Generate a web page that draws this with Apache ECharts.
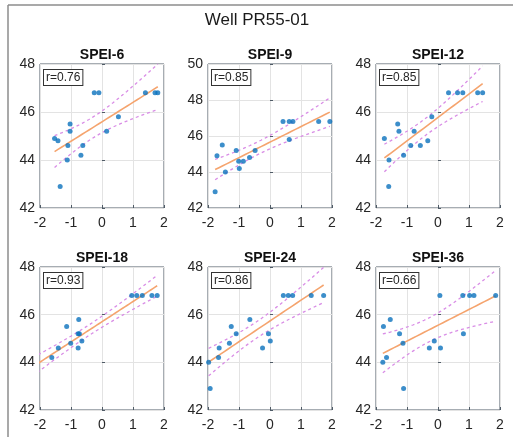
<!DOCTYPE html>
<html><head><meta charset="utf-8">
<script src="https://cdn.jsdelivr.net/npm/echarts@6/dist/echarts.min.js"></script>
<style>html,body{margin:0;padding:0;background:#fff}#c{width:513px;height:437px}</style>
</head><body><div id="c"></div>
<script>
// ---- data ----
const mainTitle = 'Well PR55-01';
const panelTitles = ['SPEI-6', 'SPEI-9', 'SPEI-12', 'SPEI-18', 'SPEI-24', 'SPEI-36'];
const rLabels = ['r=0.76', 'r=0.85', 'r=0.85', 'r=0.93', 'r=0.86', 'r=0.66'];
const xRange = [-2, 2];
const yRanges = [[42, 48], [42, 50], [42, 48], [42, 48], [42, 48], [42, 48]];

const spei6X = [-1.53, -1.42, -1.35, -1.10, -1.12, -1.03, -1.03, -0.68, -0.62, -0.25, -0.10, 0.15, 0.53, 1.40, 1.71, 1.80];
const spei6Y = [44.9, 44.8, 42.9, 44.6, 44.0, 45.5, 45.2, 44.2, 44.6, 46.8, 46.8, 45.2, 45.8, 46.8, 46.8, 46.8];

const spei9X = [-1.77, -1.71, -1.54, -1.44, -1.09, -1.01, -0.99, -0.86, -0.66, -0.48, 0.42, 0.62, 0.62, 0.74, 1.57, 1.93];
const spei9Y = [42.9, 44.9, 45.5, 44.0, 45.2, 44.6, 44.2, 44.6, 44.8, 45.2, 46.8, 46.8, 45.8, 46.8, 46.8, 46.8];

const spei12X = [-1.73, -1.58, -1.59, -1.30, -1.26, -1.11, -0.88, -0.77, -0.57, -0.33, -0.20, 0.34, 0.63, 0.80, 1.28, 1.44];
const spei12Y = [44.9, 44.0, 42.9, 45.5, 45.2, 44.2, 44.6, 45.2, 44.6, 44.8, 45.8, 46.8, 46.8, 46.8, 46.8, 46.8];

// two values lie left of the axis range (hidden by clipping)
const spei18X = [-2.40, -2.10, -1.62, -1.41, -1.14, -1.01, -0.77, -0.75, -0.73, -0.77, -0.65, 0.96, 1.12, 1.30, 1.61, 1.78];
const spei18Y = [42.9, 44.0, 44.2, 44.6, 45.5, 44.8, 45.2, 45.8, 45.2, 44.6, 44.9, 46.8, 46.8, 46.8, 46.8, 46.8];

const spei24X = [-1.98, -1.93, -1.64, -1.66, -1.31, -1.25, -1.09, -0.65, -0.24, -0.05, 0.01, 0.43, 0.59, 0.73, 1.33, 1.73];
const spei24Y = [44.0, 42.9, 44.6, 44.2, 44.8, 45.5, 45.2, 45.8, 44.6, 45.2, 44.9, 46.8, 46.8, 46.8, 46.8, 46.8];

const spei36X = [-1.78, -1.76, -1.66, -1.54, -1.24, -1.13, -1.11, -0.28, -0.12, 0.06, 0.08, 0.80, 0.82, 1.02, 1.16, 1.86];
const spei36Y = [44.0, 45.5, 44.2, 45.8, 45.2, 44.8, 42.9, 44.6, 44.9, 46.8, 44.6, 46.8, 45.2, 46.8, 46.8, 46.8];

const panelX = [spei6X, spei9X, spei12X, spei18X, spei24X, spei36X];
const panelY = [spei6Y, spei9Y, spei12Y, spei18Y, spei24Y, spei36Y];

// ---- layout / style ----
const colLeft = [40, 208, 376];
const rowTop = [64, 267];
const rowH = [144, 143];
const plotW = 124;
const FONT = '"Liberation Sans", Arial, Helvetica, sans-serif';
const axisColor = '#4f5b66';
const textColor = '#262626';
const tCrit = {12: 2.179, 13: 2.160, 14: 2.145, 15: 2.131, 16: 2.120, 17: 2.110, 18: 2.101};

// least squares fit + 95% confidence band of the mean
function fitBand(xs, ys) {
  const n = xs.length;
  const mx = xs.reduce((a, b) => a + b, 0) / n;
  const my = ys.reduce((a, b) => a + b, 0) / n;
  let sxx = 0, sxy = 0;
  for (let i = 0; i < n; i++) { sxx += (xs[i] - mx) ** 2; sxy += (xs[i] - mx) * (ys[i] - my); }
  const b = sxy / sxx, a = my - b * mx;
  let sse = 0;
  for (let i = 0; i < n; i++) sse += (ys[i] - a - b * xs[i]) ** 2;
  const s = Math.sqrt(sse / (n - 2));
  const t = tCrit[n - 2] || 2.1;
  const x0 = Math.min(...xs), x1 = Math.max(...xs);
  const fit = [], up = [], lo = [];
  const steps = 60;
  for (let k = 0; k <= steps; k++) {
    const x = x0 + (x1 - x0) * k / steps;
    const yh = a + b * x;
    const h = t * s * Math.sqrt(1 / n + (x - mx) ** 2 / sxx);
    fit.push([x, yh]); up.push([x, yh + h]); lo.push([x, yh - h]);
  }
  return {fit, up, lo};
}

const grids = [], xAxes = [], yAxes = [], series = [], graphics = [];

graphics.push({type: 'line', shape: {x1: 8, y1: 5, x2: 513, y2: 5}, style: {stroke: '#8c8c8c', lineWidth: 1.5}, silent: true});
graphics.push({type: 'line', shape: {x1: 8, y1: 5, x2: 8, y2: 437}, style: {stroke: '#8c8c8c', lineWidth: 1.5}, silent: true});
graphics.push({type: 'text', x: 257, y: 20, style: {text: mainTitle, font: '17px ' + FONT, fill: '#1a1a1a', textAlign: 'center', textVerticalAlign: 'middle'}, silent: true});

for (let i = 0; i < 6; i++) {
  const col = i % 3, row = Math.floor(i / 3);
  const left = colLeft[col], top = rowTop[row], h = rowH[row];
  grids.push({left: left, top: top, width: plotW, height: h, show: true, borderColor: axisColor, borderWidth: 1, backgroundColor: '#fff', containLabel: false});
  xAxes.push({
    gridIndex: i, type: 'value', min: xRange[0], max: xRange[1], interval: 1,
    axisLine: {show: false}, axisTick: {show: true, inside: true, length: 3, lineStyle: {color: axisColor}},
    axisLabel: {color: textColor, fontSize: 14, fontFamily: FONT, margin: 8, showMinLabel: true, showMaxLabel: true},
    splitLine: {show: true, lineStyle: {color: '#e3e3e3', width: 1}}
  });
  yAxes.push({
    gridIndex: i, type: 'value', min: yRanges[i][0], max: yRanges[i][1], interval: 2,
    axisLine: {show: false}, axisTick: {show: true, inside: true, length: 3, lineStyle: {color: axisColor}},
    axisLabel: {color: textColor, fontSize: 14, fontFamily: FONT, margin: 5, showMinLabel: true, showMaxLabel: true},
    splitLine: {show: true, lineStyle: {color: '#e3e3e3', width: 1}}
  });
  const fb = fitBand(panelX[i], panelY[i]);
  const lineBase = {type: 'line', xAxisIndex: i, yAxisIndex: i, showSymbol: false, symbol: 'none', clip: true, silent: true, z: 2};
  series.push(Object.assign({}, lineBase, {data: fb.up, lineStyle: {color: '#d98de6', width: 1.3, type: [3, 3]}}));
  series.push(Object.assign({}, lineBase, {data: fb.lo, lineStyle: {color: '#d98de6', width: 1.3, type: [3, 3]}}));
  series.push(Object.assign({}, lineBase, {data: fb.fit, lineStyle: {color: '#f5a46e', width: 1.6}}));
  series.push({
    type: 'scatter', xAxisIndex: i, yAxisIndex: i, clip: true, symbolSize: 5, z: 3,
    itemStyle: {color: '#0b72bd'},
    data: panelX[i].map((x, k) => [x, panelY[i][k]])
  });
  graphics.push({type: 'text', x: left + plotW / 2, y: top - 9, style: {text: panelTitles[i], font: 'bold 14px ' + FONT, fill: '#111', textAlign: 'center', textVerticalAlign: 'middle'}, silent: true, z: 10});
  graphics.push({type: 'text', x: left + 4, y: top + 6, style: {text: rLabels[i], font: '12px ' + FONT, fill: textColor, backgroundColor: '#fff', borderColor: '#333', borderWidth: 1, padding: [2, 2, 1, 2]}, silent: true, z: 10});
}

const chart = echarts.init(document.getElementById('c'), null, {renderer: 'canvas'});
chart.setOption({animation: false, backgroundColor: '#fff', grid: grids, xAxis: xAxes, yAxis: yAxes, series: series, graphic: graphics});
</script></body></html>
